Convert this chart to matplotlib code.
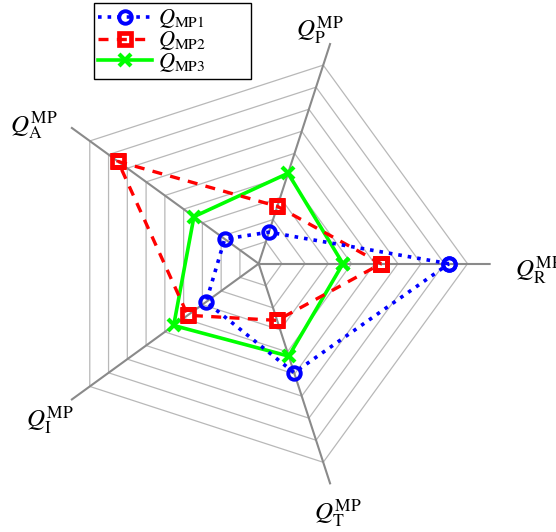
import numpy as np
import matplotlib
matplotlib.use("Agg")
import matplotlib.pyplot as plt

plt.rcParams['mathtext.fontset'] = 'stix'
plt.rcParams['font.family'] = ['Liberation Serif', 'DejaVu Serif']

# axes of the radar, counter-clockwise from the right
axis_names = ['R', 'P', 'A', 'I', 'T']
axis_angles_deg = [0, 72, 144, 216, 288]

# values (grid rings at 1..9, axis line to 10)
q_mp1 = [8.2, 1.43, 1.81, 2.8, 4.94]
q_mp2 = [5.28, 2.6, 7.5, 3.78, 2.57]
q_mp3 = [3.63, 4.1, 3.45, 4.53, 4.19]
series_labels = [r'$Q_{\mathrm{MP1}}$', r'$Q_{\mathrm{MP2}}$', r'$Q_{\mathrm{MP3}}$']

rings = [1, 2, 3, 4, 5, 6, 7, 8, 9]
r_max = 10

theta = np.deg2rad(axis_angles_deg)
theta_closed = np.append(theta, theta[0])

fig = plt.figure(figsize=(5.56, 5.32), dpi=100)
ax = fig.add_axes([26.7 / 556, (532 - 495.7) / 532, 464 / 556, 464 / 532], projection='polar')
ax.set_ylim(0, r_max)
ax.grid(False)
ax.spines['polar'].set_visible(False)
ax.set_xticks([])
ax.set_yticks([])
ax.patch.set_alpha(0)

# pentagon grid
for r in rings:
    ax.plot(theta_closed, [r] * len(theta_closed), color='#b8b8b8', lw=0.9, zorder=1)
for t in theta:
    ax.plot([t, t], [0, r_max], color='#8a8a8a', lw=1.5, zorder=2)

def closed(v):
    return list(v) + [v[0]]

pad = '        '  # legend box is wider than its text in the original
ax.plot(theta_closed, closed(q_mp1), color='blue', ls=':', lw=2.6, marker='o',
        ms=9, mfc='none', mec='blue', mew=2.8, label=series_labels[0] + pad, zorder=5)
ax.plot(theta_closed, closed(q_mp2), color='red', ls=(0, (3, 2.5)), lw=2.4, marker='s',
        ms=8, mfc='none', mec='red', mew=3.4, label=series_labels[1] + pad, zorder=4)
ax.plot(theta_closed, closed(q_mp3), color='#00ff00', ls='-', lw=2.6, marker='x',
        ms=9, mec='#00ff00', mew=3, label=series_labels[2] + pad, zorder=3)

# axis labels
label_pos = [(-1.3, 12.1), (75.3, 10.4), (148.4, 11.4), (216.8, 11.25), (287.6, 11.3)]
for name, (ang, rad) in zip(axis_names, label_pos):
    ax.text(np.deg2rad(ang), rad, r'$Q_{\mathrm{%s}}^{\mathrm{MP}}$' % name,
            ha='center', va='center', fontsize=18)

fig.legend(loc='upper left', bbox_to_anchor=(94 / 556, 1 - 3 / 532), fontsize=16,
           fancybox=False, edgecolor='black', framealpha=1, borderaxespad=0,
           handlelength=2.4, labelspacing=-0.05, borderpad=0.2, handletextpad=0.3)

fig.savefig('out.png', dpi=100)
